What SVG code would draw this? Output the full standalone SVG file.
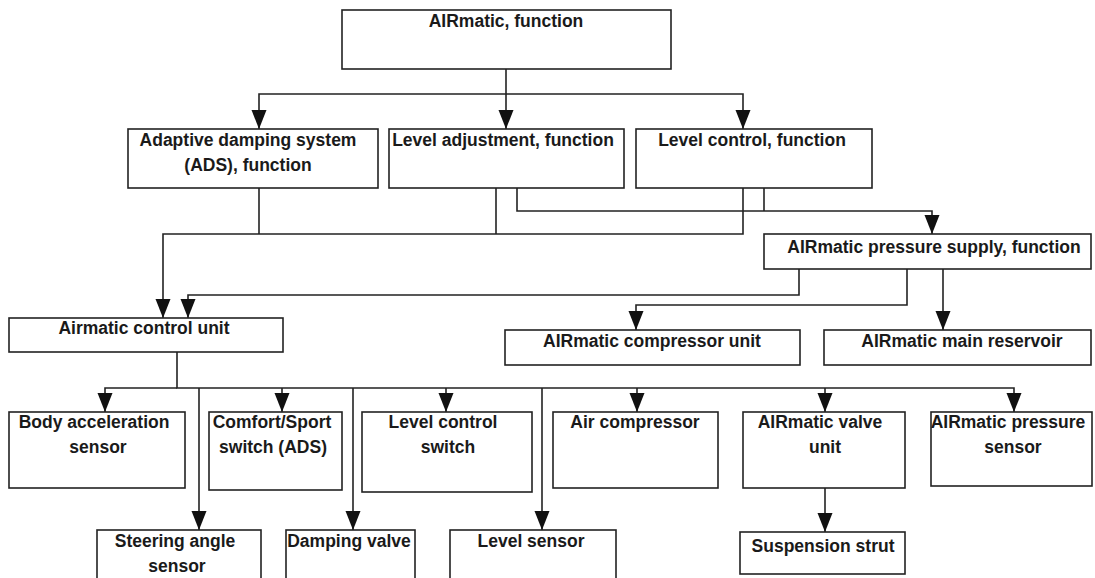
<svg xmlns="http://www.w3.org/2000/svg" width="1095" height="578" viewBox="0 0 1095 578">
<style>
.box{fill:#fff;stroke:#222;stroke-width:1.6}
.lbl{font-family:"Liberation Sans",Arial,sans-serif;font-weight:bold;font-size:17.5px;fill:#1a1a1a;text-anchor:middle}
.ln{fill:none;stroke:#222;stroke-width:1.6}
</style>
<defs>
<marker id="arr" markerUnits="userSpaceOnUse" markerWidth="20" markerHeight="20" viewBox="0 0 20 20" refX="19" refY="10" orient="auto">
<path d="M0,2.5 L19,10 L0,17.5 Z" fill="#111"/>
</marker>
</defs>
<rect width="1095" height="578" fill="#fff"/>
<g id="connectors">
<path class="ln" d="M506,69 V129" marker-end="url(#arr)"/>
<path class="ln" d="M506,94 H259 V129" marker-end="url(#arr)"/>
<path class="ln" d="M506,94 H743 V129" marker-end="url(#arr)"/>
<path class="ln" d="M743,188 V234 H163 V318" marker-end="url(#arr)"/>
<path class="ln" d="M259,188 V234"/>
<path class="ln" d="M496,188 V234"/>
<path class="ln" d="M517,188 V211 H932 V234" marker-end="url(#arr)"/>
<path class="ln" d="M764,188 V211"/>
<path class="ln" d="M799,269 V295 H188 V318" marker-end="url(#arr)"/>
<path class="ln" d="M907,269 V305 H636 V330" marker-end="url(#arr)"/>
<path class="ln" d="M943,269 V330" marker-end="url(#arr)"/>
<path class="ln" d="M177,352 V388 H1014 V412" marker-end="url(#arr)"/>
<path class="ln" d="M177,388 H105 V412" marker-end="url(#arr)"/>
<path class="ln" d="M199,388 V530" marker-end="url(#arr)"/>
<path class="ln" d="M282,388 V412" marker-end="url(#arr)"/>
<path class="ln" d="M353,388 V530" marker-end="url(#arr)"/>
<path class="ln" d="M446,388 V412" marker-end="url(#arr)"/>
<path class="ln" d="M542,388 V530" marker-end="url(#arr)"/>
<path class="ln" d="M637,388 V412" marker-end="url(#arr)"/>
<path class="ln" d="M825,388 V412" marker-end="url(#arr)"/>
<path class="ln" d="M825,488 V532" marker-end="url(#arr)"/>
</g>
<g id="airmatic-function"><rect class="box" x="342" y="10" width="329" height="59"/><text class="lbl" x="506" y="27">AIRmatic, function</text></g>
<g id="ads-function"><rect class="box" x="128" y="129" width="250" height="59"/><text class="lbl" x="248" y="146">Adaptive damping system</text><text class="lbl" x="248" y="171">(ADS), function</text></g>
<g id="level-adjustment"><rect class="box" x="389" y="129" width="235" height="59"/><text class="lbl" x="503" y="146">Level adjustment, function</text></g>
<g id="level-control"><rect class="box" x="636" y="129" width="236" height="59"/><text class="lbl" x="752" y="146">Level control, function</text></g>
<g id="pressure-supply"><rect class="box" x="764" y="234" width="327" height="35"/><text class="lbl" x="934" y="253">AIRmatic pressure supply, function</text></g>
<g id="control-unit"><rect class="box" x="9" y="318" width="274" height="34"/><text class="lbl" x="144" y="334">Airmatic control unit</text></g>
<g id="compressor-unit"><rect class="box" x="505" y="330" width="295" height="35"/><text class="lbl" x="652" y="347">AIRmatic compressor unit</text></g>
<g id="main-reservoir"><rect class="box" x="824" y="330" width="267" height="35"/><text class="lbl" x="962" y="347">AIRmatic main reservoir</text></g>
<g id="body-accel"><rect class="box" x="9" y="412" width="176" height="76"/><text class="lbl" x="94" y="428">Body acceleration</text><text class="lbl" x="98" y="453">sensor</text></g>
<g id="comfort-sport"><rect class="box" x="209" y="412" width="133" height="78"/><text class="lbl" x="272" y="428">Comfort/Sport</text><text class="lbl" x="273" y="453">switch (ADS)</text></g>
<g id="level-switch"><rect class="box" x="362" y="412" width="170" height="80"/><text class="lbl" x="443" y="428">Level control</text><text class="lbl" x="448" y="453">switch</text></g>
<g id="air-compressor"><rect class="box" x="553" y="412" width="165" height="76"/><text class="lbl" x="635" y="428">Air compressor</text></g>
<g id="valve-unit"><rect class="box" x="743" y="412" width="162" height="76"/><text class="lbl" x="820" y="428">AIRmatic valve</text><text class="lbl" x="825" y="453">unit</text></g>
<g id="pressure-sensor"><rect class="box" x="931" y="412" width="161" height="74"/><text class="lbl" x="1008" y="428">AIRmatic pressure</text><text class="lbl" x="1013" y="453">sensor</text></g>
<g id="steering-angle"><rect class="box" x="97" y="530" width="164" height="70"/><text class="lbl" x="175" y="547">Steering angle</text><text class="lbl" x="177" y="572">sensor</text></g>
<g id="damping-valve"><rect class="box" x="286" y="530" width="129" height="70"/><text class="lbl" x="349" y="547">Damping valve</text></g>
<g id="level-sensor"><rect class="box" x="450" y="530" width="166" height="70"/><text class="lbl" x="531" y="547">Level sensor</text></g>
<g id="suspension-strut"><rect class="box" x="740" y="532" width="165" height="42"/><text class="lbl" x="823" y="552">Suspension strut</text></g>
</svg>
